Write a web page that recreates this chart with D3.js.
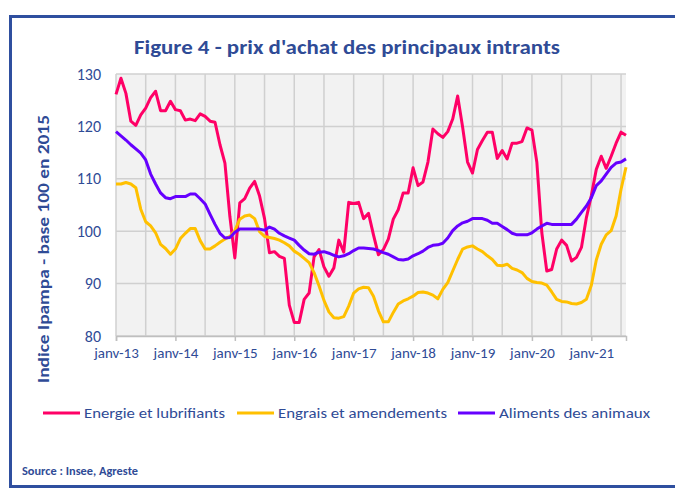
<!DOCTYPE html>
<html>
<head>
<meta charset="utf-8">
<script src="https://cdn.jsdelivr.net/npm/d3@7"></script>
<style>
  body { margin: 0; background: #fff; }
  svg text { font-family: Carlito, 'Liberation Sans Narrow', 'Open Sans', sans-serif; fill: #2f4b96; }
</style>
</head>
<body>
<div id="chart"></div>
<script>
// monthly index, janv-2013 .. aout-2021 (104 months)
const xLabels = ['janv-13', 'janv-14', 'janv-15', 'janv-16', 'janv-17', 'janv-18', 'janv-19', 'janv-20', 'janv-21'];
const yTicks = [80, 90, 100, 110, 120, 130];
const seriesNames = ['Energie et lubrifiants', 'Engrais et amendements', 'Aliments des animaux'];

const energie = [
  126.1, 129.2, 126.3, 121.0, 120.2, 122.2, 123.5, 125.5, 126.7, 123.0, 123.0, 124.8,
  123.2, 123.0, 121.2, 121.4, 121.1, 122.4, 121.9, 121.0, 120.8, 116.5, 113.0, 102.8,
  94.9, 105.4, 106.2, 108.2, 109.5, 106.7, 102.4, 95.9, 96.1, 95.2, 94.8, 85.9,
  82.6, 82.6, 87.0, 88.2, 95.1, 96.5, 93.2, 91.4, 93.0, 98.3, 96.0, 105.5,
  105.3, 105.5, 102.4, 103.4, 99.3, 95.5, 96.5, 98.5, 102.3, 104.1, 107.3, 107.3,
  112.1, 108.7, 109.4, 113.2, 119.5, 118.6, 117.9, 119.0, 121.4, 125.8, 119.9, 113.2,
  111.1, 115.6, 117.3, 118.9, 118.9, 113.9, 115.4, 113.8, 116.8, 116.8, 117.1, 119.7,
  119.3, 113.1, 99.7, 92.4, 92.7, 96.6, 98.3, 97.3, 94.3, 95.0, 96.9, 102.6,
  106.8, 111.8, 114.3, 112.0, 114.3, 116.8, 118.9, 118.3
];
const engrais = [
  109.0, 109.0, 109.3, 109.0, 108.3, 104.2, 101.8, 101.0, 99.7, 97.5, 96.7, 95.6,
  96.6, 98.6, 99.6, 100.5, 100.5, 98.2, 96.6, 96.6, 97.2, 97.9, 98.5, 99.0,
  100.1, 102.3, 102.9, 103.1, 102.4, 99.9, 99.0, 98.8, 98.6, 98.3, 97.8, 97.2,
  96.2, 95.6, 94.8, 94.0, 92.1, 89.6, 86.8, 84.6, 83.5, 83.4, 83.7, 85.7,
  88.2, 89.0, 89.3, 89.2, 87.6, 84.8, 82.7, 82.7, 84.5, 86.1, 86.7, 87.1,
  87.6, 88.3, 88.4, 88.2, 87.8, 87.1, 88.9, 90.2, 92.4, 94.6, 96.6, 97.0,
  97.2, 96.6, 96.1, 95.3, 94.6, 93.5, 93.4, 93.7, 92.9, 92.6, 92.1, 91.0,
  90.4, 90.2, 90.1, 89.7, 88.4, 87.0, 86.6, 86.5, 86.2, 86.1, 86.4, 87.0,
  89.7, 94.5, 97.5, 99.3, 100.1, 102.9, 108.0, 112.2
];
const aliments = [
  119.0, 118.2, 117.4, 116.5, 115.7, 114.9, 113.6, 110.9, 109.0, 107.3, 106.4, 106.2,
  106.6, 106.6, 106.6, 107.1, 107.1, 106.2, 105.2, 103.2, 101.3, 99.6, 98.7, 98.8,
  99.8, 100.4, 100.4, 100.4, 100.4, 100.4, 100.2, 100.8, 100.4, 99.6, 99.1, 98.7,
  98.3, 97.3, 96.4, 95.7, 95.6, 96.0, 96.1, 95.8, 95.4, 95.1, 95.3, 95.7,
  96.3, 96.8, 96.8, 96.7, 96.6, 96.3, 95.9, 95.6, 95.1, 94.6, 94.5, 94.7,
  95.3, 95.7, 96.2, 96.9, 97.3, 97.4, 97.7, 98.7, 100.1, 101.0, 101.6, 101.9,
  102.4, 102.4, 102.4, 102.1, 101.5, 101.5, 100.9, 100.3, 99.6, 99.3, 99.3, 99.3,
  99.7, 100.4, 101.0, 101.5, 101.3, 101.3, 101.3, 101.3, 101.3, 102.3, 103.6, 104.8,
  106.4, 108.7, 109.6, 110.9, 112.2, 113.0, 113.2, 113.8
];
const colors = ['#ff0066', '#ffc000', '#6600ff'];

const width = 675, height = 489;
const margin = { top: 74, right: 49, bottom: 153, left: 116 };
const blue = '#2f4b96';

const svg = d3.select('#chart').append('svg')
  .attr('width', width)
  .attr('height', height);

svg.append('rect').attr('width', width).attr('height', height).attr('fill', '#fff');

// outer frame
svg.append('rect')
  .attr('x', 10.5).attr('y', 16.5)
  .attr('width', 700).attr('height', 470)
  .attr('fill', 'none')
  .attr('stroke', '#2f4f9f')
  .attr('stroke-width', 3);

svg.append('text')
  .attr('x', 347).attr('y', 54)
  .attr('text-anchor', 'middle')
  .style('font-size', '20px')
  .style('font-weight', 'bold')
  .attr('textLength', 426)
  .attr('lengthAdjust', 'spacingAndGlyphs')
  .text('Figure 4 - prix d\'achat des principaux intrants');

const n = energie.length;
const x = d3.scaleLinear()
  .domain([0, n - 1])
  .range([margin.left, width - margin.right]);
const y = d3.scaleLinear()
  .domain([80, 130])
  .range([height - margin.bottom, margin.top]);

// plot background
svg.append('rect')
  .attr('x', x(0)).attr('y', y(130))
  .attr('width', x(n - 1) - x(0)).attr('height', y(80) - y(130))
  .attr('fill', '#f2f2f2');

// gridlines
svg.append('g')
  .attr('class', 'grid')
  .selectAll('line.h')
  .data(yTicks)
  .enter()
  .append('line')
  .attr('x1', x(0)).attr('x2', x(n - 1))
  .attr('y1', d => y(d)).attr('y2', d => y(d))
  .attr('stroke', '#d0d0d0')
  .attr('stroke-width', 1.5);

svg.append('g')
  .attr('class', 'grid')
  .selectAll('line.v')
  .data(d3.range(0, n, 6))
  .enter()
  .append('line')
  .attr('x1', d => x(d)).attr('x2', d => x(d))
  .attr('y1', y(130)).attr('y2', y(80))
  .attr('stroke', '#d0d0d0')
  .attr('stroke-width', 1.5);

// x axis
const xAxis = d3.axisBottom(x)
  .tickValues(d3.range(0, n, 12))
  .tickSize(5)
  .tickPadding(6)
  .tickFormat((d, i) => xLabels[i]);

const gx = svg.append('g')
  .attr('transform', `translate(0, ${y(80)})`)
  .call(xAxis);
gx.select('.domain').attr('stroke', '#bfbfbf').attr('stroke-width', 1.5);
gx.selectAll('.tick line').attr('stroke', '#bfbfbf').attr('stroke-width', 1.5);
gx.selectAll('.tick text').style('font-size', '15px').attr('fill', blue);

// y axis
const yAxis = d3.axisLeft(y)
  .tickValues(yTicks)
  .tickSize(0)
  .tickPadding(15);
const gy = svg.append('g')
  .attr('transform', `translate(${x(0)}, 0)`)
  .call(yAxis);
gy.select('.domain').remove();
gy.selectAll('.tick text').style('font-size', '16px').attr('fill', blue);

svg.append('text')
  .attr('transform', 'translate(49, 249) rotate(-90)')
  .attr('text-anchor', 'middle')
  .style('font-size', '15px')
  .style('font-weight', 'bold')
  .attr('textLength', 268)
  .attr('lengthAdjust', 'spacingAndGlyphs')
  .text('Indice Ipampa - base 100 en 2015');

// series
const line = d3.line()
  .x((d, i) => x(i))
  .y(d => y(d));

[energie, engrais, aliments].forEach((s, k) => {
  svg.append('path')
    .datum(s)
    .attr('fill', 'none')
    .attr('stroke', colors[k])
    .attr('stroke-width', 3)
    .attr('stroke-linejoin', 'round')
    .attr('d', line);
});

// legend
const legend = [
  { x: 43, w: 141 },
  { x: 237, w: 169 },
  { x: 458, w: 151 }
];
const lg = svg.append('g').attr('transform', 'translate(0, 413)');
seriesNames.forEach((name, k) => {
  lg.append('line')
    .attr('x1', legend[k].x).attr('x2', legend[k].x + 37)
    .attr('y1', 0).attr('y2', 0)
    .attr('stroke', colors[k])
    .attr('stroke-width', 3);
  lg.append('text')
    .attr('x', legend[k].x + 41)
    .attr('y', 5)
    .style('font-size', '15px')
    .attr('textLength', legend[k].w)
    .attr('lengthAdjust', 'spacingAndGlyphs')
    .text(name);
});

svg.append('text')
  .attr('x', 22).attr('y', 475)
  .style('font-size', '11px')
  .style('font-weight', 'bold')
  .attr('textLength', 116)
  .attr('lengthAdjust', 'spacingAndGlyphs')
  .text('Source : Insee, Agreste');
</script>
</body>
</html>
